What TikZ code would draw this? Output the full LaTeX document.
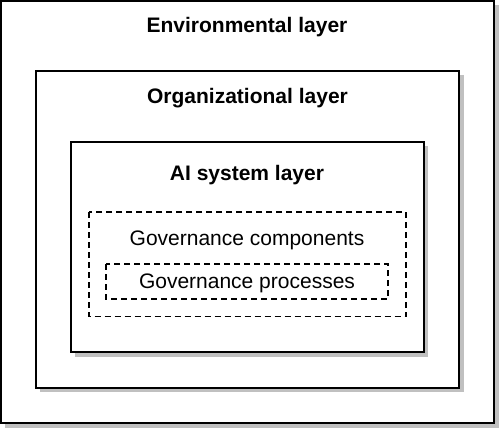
\documentclass[tikz,border=0pt]{standalone}
\usepackage{fontspec}
\setmainfont{Liberation Sans}
\definecolor{shadowgray}{HTML}{C0C0C0}
\begin{document}
\begin{tikzpicture}[x=1pt,y=-1pt,
  layerbox/.style={draw=black,line width=2pt,fill=white},
  shadowbox/.style={fill=shadowgray,draw=none},
  dashbox/.style={draw=black,line width=1.6pt,dash pattern=on 6pt off 4pt},
  title/.style={anchor=base,inner sep=0pt,font=\fontsize{21}{25}\selectfont\bfseries},
  label/.style={anchor=base,inner sep=0pt,font=\fontsize{21}{25}\selectfont}]
\useasboundingbox (0,0) rectangle (500,431);
% environmental layer
\fill[shadowbox] (5,5) rectangle (499,428);
\draw[layerbox] (1,1) rectangle (494,423);
\node[title] (env) at (247,32) {Environmental layer};
% organizational layer
\fill[shadowbox] (40,75) rectangle (463.5,392);
\draw[layerbox] (36,71) rectangle (459,387.5);
\node[title] (org) at (247.5,103) {Organizational layer};
% AI system layer
\fill[shadowbox] (75,145.5) rectangle (428,356.5);
\draw[layerbox] (71,141.5) rectangle (423.5,352);
\node[title] (ai) at (247,180) {AI system layer};
% governance
\draw[dashbox] (89,212) rectangle (406,316.5);
\node[label] (comp) at (247,245) {Governance components};
\draw[dashbox] (106,264) rectangle (388,299);
\node[label] (proc) at (247,288) {Governance processes};
\end{tikzpicture}
\end{document}
